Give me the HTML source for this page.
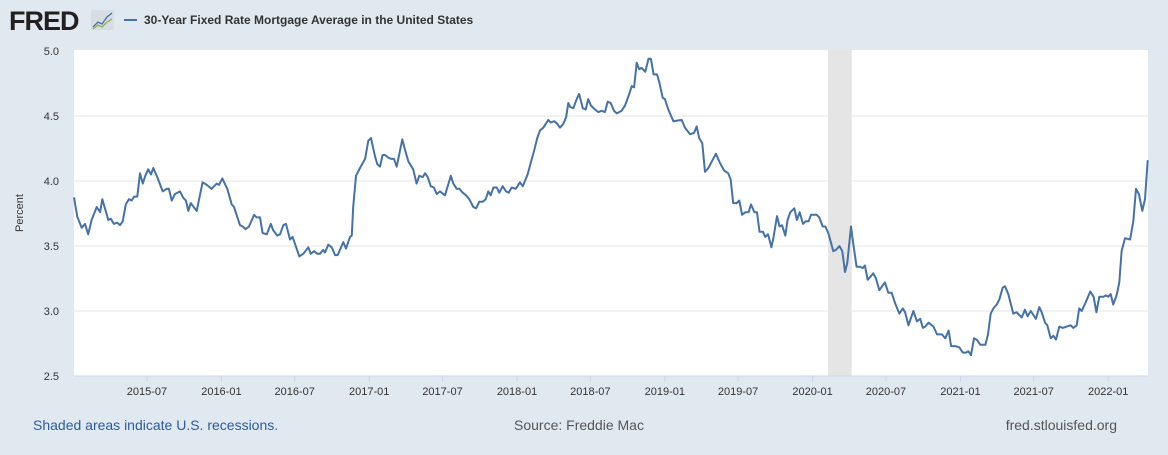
<!DOCTYPE html>
<html><head><meta charset="utf-8"><style>
body{margin:0;width:1168px;height:450px;background:#e1e9f0;font-family:"Liberation Sans",sans-serif;overflow:hidden}
</style></head><body>
<svg width="1168" height="450" viewBox="0 0 1168 450" xmlns="http://www.w3.org/2000/svg">
<g>
<text x="9" y="30" font-family="Liberation Sans" font-weight="bold" font-size="27" fill="#231f20" letter-spacing="-1">FRED</text>
<rect x="91" y="10" width="23" height="20" rx="2" fill="#d6dde3"/>
<polyline points="93,27 98,22 102,24 107,17 112,13" fill="none" stroke="#4572a7" stroke-width="1.3"/>
<polyline points="93,29 98,25 102,27 107,22 112,19" fill="none" stroke="#8bb04f" stroke-width="1.3"/>
</g>
<g>
<line x1="124" y1="20" x2="137" y2="20" stroke="#4572a7" stroke-width="2"/>
<text x="144" y="24" font-weight="bold" font-size="12" fill="#333">30-Year Fixed Rate Mortgage Average in the United States</text>
</g>
<rect x="74" y="50" width="1074" height="326" fill="#fff"/>
<g id="grid"></g>
<g id="rec"></g>
<g id="xaxis"></g>
<g id="yaxis"></g>
<path id="series" fill="none" stroke="#4572a7" stroke-width="2" stroke-linejoin="round"/>
<text transform="translate(23,213) rotate(-90)" text-anchor="middle" font-size="11" fill="#333">Percent</text>
<text x="33" y="430" font-size="14" fill="#2a5b9f">Shaded areas indicate U.S. recessions.</text>
<text x="514" y="430" font-size="14" fill="#555">Source: Freddie Mac</text>
<text x="1117" y="430" text-anchor="end" font-size="14" fill="#555">fred.stlouisfed.org</text>
</svg>
<script>
const dates=[2015.003,2015.025,2015.055,2015.077,2015.099,2015.122,2015.156,2015.179,2015.194,2015.235,2015.251,2015.273,2015.296,2015.314,2015.332,2015.353,2015.375,2015.393,2015.409,2015.431,2015.449,2015.468,2015.485,2015.505,2015.524,2015.539,2015.566,2015.603,2015.630,2015.645,2015.664,2015.686,2015.720,2015.742,2015.760,2015.776,2015.792,2015.833,2015.873,2015.901,2015.934,2015.968,2015.984,2016.006,2016.040,2016.070,2016.085,2016.126,2016.144,2016.164,2016.187,2016.221,2016.239,2016.261,2016.279,2016.307,2016.334,2016.351,2016.378,2016.397,2016.419,2016.437,2016.464,2016.482,2016.527,2016.554,2016.588,2016.604,2016.627,2016.649,2016.667,2016.689,2016.701,2016.723,2016.746,2016.769,2016.787,2016.825,2016.843,2016.870,2016.882,2016.892,2016.911,2016.938,2016.972,2016.994,2017.012,2017.039,2017.055,2017.073,2017.091,2017.107,2017.129,2017.148,2017.168,2017.186,2017.224,2017.242,2017.265,2017.298,2017.321,2017.339,2017.362,2017.378,2017.396,2017.416,2017.438,2017.457,2017.479,2017.513,2017.552,2017.569,2017.592,2017.610,2017.633,2017.655,2017.677,2017.704,2017.723,2017.745,2017.768,2017.788,2017.806,2017.822,2017.840,2017.863,2017.880,2017.903,2017.926,2017.944,2017.964,2017.991,2018.020,2018.039,2018.072,2018.100,2018.115,2018.137,2018.156,2018.178,2018.212,2018.228,2018.252,2018.273,2018.291,2018.313,2018.332,2018.347,2018.359,2018.381,2018.404,2018.420,2018.445,2018.465,2018.482,2018.501,2018.528,2018.550,2018.573,2018.595,2018.614,2018.634,2018.656,2018.675,2018.708,2018.731,2018.760,2018.776,2018.792,2018.810,2018.826,2018.844,2018.868,2018.890,2018.906,2018.924,2018.947,2018.963,2018.986,2019.001,2019.024,2019.058,2019.114,2019.137,2019.171,2019.198,2019.216,2019.233,2019.254,2019.272,2019.295,2019.346,2019.373,2019.402,2019.429,2019.446,2019.463,2019.486,2019.504,2019.523,2019.545,2019.567,2019.583,2019.606,2019.624,2019.641,2019.664,2019.680,2019.698,2019.721,2019.736,2019.759,2019.777,2019.793,2019.815,2019.831,2019.849,2019.876,2019.894,2019.912,2019.935,2019.953,2019.973,2019.989,2020.010,2020.028,2020.045,2020.068,2020.086,2020.106,2020.140,2020.158,2020.181,2020.201,2020.219,2020.235,2020.260,2020.275,2020.298,2020.320,2020.339,2020.354,2020.373,2020.411,2020.429,2020.451,2020.490,2020.512,2020.535,2020.558,2020.587,2020.610,2020.626,2020.648,2020.682,2020.706,2020.728,2020.746,2020.762,2020.785,2020.818,2020.842,2020.875,2020.898,2020.920,2020.937,2020.964,2020.993,2021.016,2021.038,2021.054,2021.072,2021.092,2021.110,2021.135,2021.169,2021.187,2021.205,2021.223,2021.246,2021.264,2021.286,2021.302,2021.324,2021.358,2021.381,2021.415,2021.437,2021.455,2021.476,2021.511,2021.534,2021.550,2021.573,2021.588,2021.611,2021.629,2021.647,2021.669,2021.692,2021.719,2021.746,2021.764,2021.787,2021.804,2021.821,2021.845,2021.879,2021.901,2021.920,2021.940,2021.969,2021.983,2022.001,2022.017,2022.034,2022.057,2022.075,2022.091,2022.114,2022.148,2022.170,2022.188,2022.208,2022.231,2022.249,2022.267];
const rates=[3.875,3.725,3.64,3.67,3.59,3.70,3.80,3.76,3.86,3.70,3.71,3.67,3.68,3.66,3.69,3.82,3.86,3.85,3.88,3.88,4.06,3.98,4.04,4.09,4.05,4.10,4.03,3.92,3.94,3.94,3.85,3.90,3.92,3.87,3.85,3.77,3.83,3.77,3.99,3.97,3.94,3.98,3.97,4.02,3.94,3.82,3.80,3.66,3.65,3.63,3.65,3.74,3.72,3.72,3.60,3.59,3.67,3.62,3.58,3.59,3.66,3.67,3.55,3.57,3.42,3.44,3.49,3.44,3.46,3.44,3.44,3.47,3.45,3.51,3.49,3.43,3.43,3.53,3.48,3.57,3.58,3.80,4.04,4.10,4.17,4.31,4.33,4.19,4.13,4.11,4.20,4.20,4.18,4.17,4.17,4.11,4.32,4.24,4.15,4.09,3.98,4.04,4.03,4.06,4.03,3.96,3.95,3.90,3.92,3.89,4.04,3.98,3.94,3.94,3.91,3.89,3.86,3.80,3.79,3.84,3.84,3.86,3.92,3.89,3.95,3.95,3.91,3.96,3.92,3.91,3.95,3.94,3.99,3.96,4.05,4.17,4.23,4.33,4.39,4.41,4.47,4.45,4.46,4.44,4.41,4.44,4.49,4.60,4.57,4.56,4.63,4.67,4.56,4.55,4.63,4.58,4.55,4.53,4.54,4.53,4.61,4.60,4.54,4.52,4.54,4.58,4.67,4.73,4.72,4.91,4.86,4.87,4.84,4.94,4.94,4.82,4.82,4.76,4.64,4.63,4.55,4.46,4.47,4.41,4.36,4.37,4.42,4.33,4.29,4.07,4.10,4.21,4.14,4.08,4.06,4.01,3.83,3.83,3.85,3.74,3.76,3.76,3.82,3.76,3.76,3.61,3.61,3.57,3.59,3.49,3.57,3.73,3.65,3.66,3.58,3.70,3.76,3.79,3.70,3.76,3.67,3.69,3.69,3.74,3.74,3.74,3.72,3.65,3.65,3.60,3.46,3.47,3.50,3.46,3.30,3.37,3.65,3.52,3.34,3.34,3.33,3.35,3.24,3.29,3.25,3.16,3.22,3.14,3.14,3.06,2.98,3.02,2.99,2.89,3.00,2.92,2.94,2.87,2.88,2.91,2.88,2.82,2.82,2.79,2.85,2.73,2.73,2.72,2.68,2.68,2.69,2.66,2.79,2.78,2.74,2.74,2.82,2.98,3.02,3.05,3.09,3.18,3.19,3.13,2.98,2.99,2.95,3.01,2.96,3.00,2.94,3.03,2.99,2.91,2.89,2.79,2.81,2.78,2.88,2.87,2.88,2.89,2.87,2.89,3.02,3.00,3.06,3.15,3.11,2.99,3.11,3.11,3.12,3.11,3.13,3.05,3.12,3.22,3.46,3.56,3.55,3.69,3.94,3.90,3.77,3.86,4.16];
const xTickLabels=["2015-07","2016-01","2016-07","2017-01","2017-07","2018-01","2018-07","2019-01","2019-07","2020-01","2020-07","2021-01","2021-07","2022-01"];
const yTicks=[2.5,3.0,3.5,4.0,4.5,5.0];
const recessions=[[2020.104,2020.265]];
const NS="http://www.w3.org/2000/svg";
function xs(t){return 73.6+(t-2015)*147.8;}
function ys(v){return 376-(v-2.5)*130;}
function mk(tag,attrs,parent){const e=document.createElementNS(NS,tag);for(const k in attrs)e.setAttribute(k,attrs[k]);document.getElementById(parent).appendChild(e);return e;}
yTicks.forEach(v=>{
  if(v>2.5&&v<5){const g=mk('line',{x1:74,x2:1148,y1:ys(v),y2:ys(v),stroke:'#e6e6e6','stroke-width':1},'grid');
  
  }
  const t=mk('text',{x:59,y:ys(v)+4,'text-anchor':'end','font-size':11,fill:'#333'},'yaxis');
  
  
  t.textContent=v.toFixed(1);
});
recessions.forEach(r=>{
  const b=mk('rect',{x:xs(r[0]),y:50,width:xs(r[1])-xs(r[0]),height:326,fill:'#e5e5e5'},'rec');
  
  
});
const al=mk('line',{x1:74,x2:1148,y1:376,y2:376,stroke:'#ccd6eb','stroke-width':1},'xaxis');


xTickLabels.forEach(s=>{
  const yr=+s.slice(0,4),mo=+s.slice(5);
  const t=yr+(mo===7?0.496:0);
  const x=xs(t);
  const tk=mk('line',{x1:x,x2:x,y1:376,y2:382,stroke:'#ccd6eb'},'xaxis');
  
  
  const tl=mk('text',{x:x,y:395,'text-anchor':'middle','font-size':11,fill:'#333'},'xaxis');
  
  
  tl.textContent=s;
});
const p=document.getElementById('series');
p.setAttribute('d',dates.map((d,i)=>(i?'L':'M')+xs(d).toFixed(1)+','+ys(rates[i]).toFixed(1)).join(''));


</script>
</body></html>
